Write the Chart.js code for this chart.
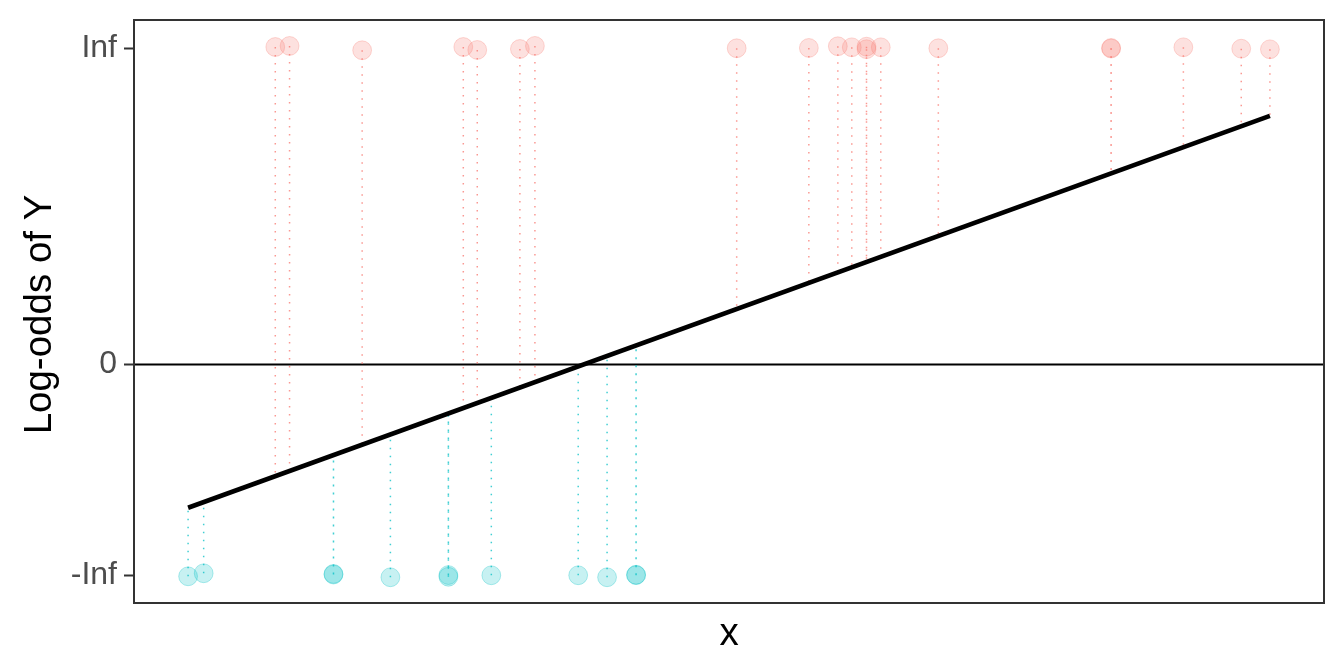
<!DOCTYPE html>
<html>
<head>
<meta charset="utf-8">
<script src="https://cdn.jsdelivr.net/npm/chart.js@4/dist/chart.umd.min.js"></script>
<style>
  html, body { margin: 0; padding: 0; background: #fff; }
  #wrap { width: 1344px; height: 672px; position: relative; }
</style>
</head>
<body>
<div id="wrap"><canvas id="c" width="1344" height="672"></canvas></div>
<script>
// ---- data ----
const redX  = [0.806, 0.938, 1.609, 2.544, 2.673, 3.067, 3.206, 5.071, 5.738, 6.006, 6.135, 6.271, 6.271, 6.403, 6.935, 8.532, 8.532, 9.200, 9.735, 10.0];
const redY  = [3.012, 3.022, 2.981, 3.012, 2.984, 2.993, 3.022, 3.000, 3.003, 3.019, 3.009, 3.015, 2.991, 3.009, 3.000, 3.003, 2.997, 3.009, 2.996, 2.990];
const blueX = [0.0, 0.144, 1.344, 1.344, 1.870, 2.406, 2.406, 2.803, 3.606, 3.873, 4.141, 4.141];
const blueY = [-2.010, -1.981, -1.993, -1.987, -2.019, -1.998, -2.014, -2.000, -2.000, -2.019, -1.995, -1.999];
const lineX = [0, 10];
const lineY = [-1.359, 2.358];
const yTickValues = [-2, 0, 3];
const yTickLabels = ['-Inf', '0', 'Inf'];
const xTitle = 'x';
const yTitle = 'Log-odds of Y';

// fitted value on the drawn regression line
function fitted(x) {
  return lineY[0] + (lineY[1] - lineY[0]) * (x - lineX[0]) / (lineX[1] - lineX[0]);
}
function segData(xs, ys) {
  const out = [];
  xs.forEach((x, i) => {
    out.push({x: x, y: ys[i]});
    out.push({x: x, y: fitted(x)});
    out.push({x: x, y: null});
  });
  return out;
}
const toPts = (xs, ys) => xs.map((x, i) => ({x: x, y: ys[i]}));

const RED = '248,118,109';
const BLUE = '0,191,196';

const framePlugin = {
  id: 'frame',
  beforeDatasetsDraw(chart) {
    const {ctx, chartArea: a, scales: {y}} = chart;
    const py = y.getPixelForValue(0);
    ctx.save();
    ctx.strokeStyle = '#000';
    ctx.lineWidth = 2;
    ctx.beginPath();
    ctx.moveTo(a.left, py);
    ctx.lineTo(a.right, py);
    ctx.stroke();
    ctx.restore();
  },
  afterDraw(chart) {
    const {ctx, chartArea: a} = chart;
    ctx.save();
    ctx.strokeStyle = '#333333';
    ctx.lineWidth = 2;
    ctx.strokeRect(a.left, a.top, a.right - a.left, a.bottom - a.top);
    ctx.fillStyle = '#000';
    ctx.font = '38.5px "Liberation Sans", Arial, sans-serif';
    ctx.textAlign = 'center';
    ctx.textBaseline = 'alphabetic';
    ctx.fillText(xTitle, (a.left + a.right) / 2, 645);
    ctx.translate(51, (a.top + a.bottom) / 2 + 3);
    ctx.rotate(-Math.PI / 2);
    ctx.fillText(yTitle, 0, 0);
    ctx.restore();
  }
};

new Chart(document.getElementById('c'), {
  type: 'scatter',
  data: {
    datasets: [
      {
        type: 'line', label: 'fit', data: toPts(lineX, lineY),
        borderColor: '#000', borderWidth: 4.6, pointRadius: 0, fill: false, order: 0
      },
      {
        type: 'line', label: 'segRed', data: segData(redX, redY),
        borderColor: 'rgba(' + RED + ',0.75)', borderWidth: 1.5, borderDash: [1.5, 6.5],
        pointRadius: 0, spanGaps: false, fill: false, order: 1
      },
      {
        type: 'line', label: 'segBlue', data: segData(blueX, blueY),
        borderColor: 'rgba(' + BLUE + ',0.75)', borderWidth: 1.5, borderDash: [1.5, 6.5],
        pointRadius: 0, spanGaps: false, fill: false, order: 1
      },
      {
        label: 'Y=1', data: toPts(redX, redY),
        backgroundColor: 'rgba(' + RED + ',0.22)', borderColor: 'rgba(' + RED + ',0.28)',
        borderWidth: 1, pointRadius: 9.4, order: 2
      },
      {
        label: 'Y=0', data: toPts(blueX, blueY),
        backgroundColor: 'rgba(' + BLUE + ',0.22)', borderColor: 'rgba(' + BLUE + ',0.3)',
        borderWidth: 1, pointRadius: 9.4, order: 2
      }
    ]
  },
  options: {
    responsive: false,
    animation: false,
    layout: { autoPadding: false, padding: { top: 20, right: 20, left: 0, bottom: 0 } },
    plugins: { legend: { display: false }, tooltip: { enabled: false } },
    scales: {
      x: {
        type: 'linear', min: -0.5, max: 10.5,
        grid: { display: false },
        border: { display: false },
        ticks: { display: false },
        afterFit(scale) { scale.height = 69; scale.paddingLeft = 0; scale.paddingRight = 0; }
      },
      y: {
        type: 'linear', min: -2.263, max: 3.268,
        afterBuildTicks(scale) { scale.ticks = yTickValues.map(v => ({value: v})); },
        ticks: {
          callback(v) { const i = yTickValues.indexOf(v); return i >= 0 ? yTickLabels[i] : ''; },
          color: '#4D4D4D',
          font: { family: '"Liberation Sans", Arial, sans-serif', size: 32 },
          padding: 7
        },
        grid: { drawOnChartArea: false, drawTicks: true, tickLength: 10, tickColor: '#333333', tickWidth: 2 },
        border: { display: false },
        afterFit(scale) { scale.width = 134; scale.paddingTop = 0; scale.paddingBottom = 0; }
      }
    }
  },
  plugins: [framePlugin]
});
</script>
</body>
</html>
